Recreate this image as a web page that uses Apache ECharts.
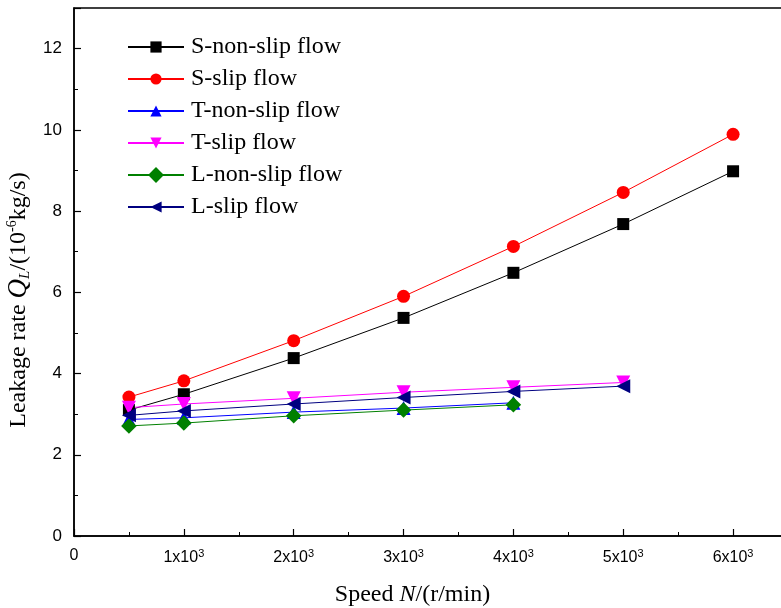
<!DOCTYPE html>
<html>
<head>
<meta charset="utf-8">
<script src="https://cdn.jsdelivr.net/npm/echarts@6/dist/echarts.min.js"></script>
<style>html,body{margin:0;padding:0;background:#fff}#c{width:781px;height:608px}</style>
</head>
<body>
<div id="c"></div>
<script>
var speeds = [500, 1000, 2000, 3000, 4000, 5000, 6000];
var sNonSlip = [3.10, 3.49, 4.38, 5.37, 6.48, 7.68, 8.98];
var sSlip = [3.42, 3.82, 4.81, 5.90, 7.13, 8.46, 9.89];
var tNonSlip = [2.87, 2.91, 3.05, 3.15, 3.28];
var tSlip = [3.16, 3.25, 3.39, 3.54, 3.66, 3.78];
var lNonSlip = [2.71, 2.78, 2.96, 3.10, 3.23];
var lSlip = [2.97, 3.08, 3.25, 3.41, 3.56, 3.69];
var seriesNames = ['S-non-slip flow', 'S-slip flow', 'T-non-slip flow', 'T-slip flow', 'L-non-slip flow', 'L-slip flow'];
var xTickLabels = ['0', '1x10{s|3}', '2x10{s|3}', '3x10{s|3}', '4x10{s|3}', '5x10{s|3}', '6x10{s|3}'];

function pairs(vals) { return vals.map(function (v, i) { return [speeds[i], v]; }); }

var chart = echarts.init(document.getElementById('c'));
var serif = '"Liberation Serif", "Times New Roman", serif';
var sans = '"Liberation Sans", Arial, sans-serif';

function mk(name, data, color, symbol, size, rot) {
  return {
    name: name, type: 'line', data: pairs(data),
    symbol: symbol, symbolSize: size, symbolRotate: rot || 0,
    showAllSymbol: true,
    lineStyle: { color: color, width: 1 },
    itemStyle: { color: color, borderWidth: 0 },
    emphasis: { disabled: true },
    animation: false
  };
}

chart.setOption({
  animation: false,
  grid: { left: 74, top: 8, width: 714, height: 528, containLabel: false, outerBoundsMode: 'none',
    show: true, borderColor: '#000', borderWidth: 1.5 },
  legend: {
    orient: 'vertical', left: 127, top: 35, padding: 0,
    itemWidth: 56, itemHeight: 14, itemGap: 8,
    data: seriesNames,
    textStyle: { fontFamily: serif, fontSize: 24, color: '#000', padding: [0, 0, 0, 2] }
  },
  xAxis: {
    type: 'value', min: 0, max: 6500, interval: 1000,
    name: '{t|Speed }{i|N}{t|/(r/min)}', nameLocation: 'middle', nameGap: 47,
    nameTextStyle: { padding: [0, 37, 0, 0], rich: {
      t: { fontFamily: serif, fontSize: 24, color: '#000' },
      i: { fontFamily: serif, fontSize: 24, fontStyle: 'italic', color: '#000' }
    } },
    axisLine: { lineStyle: { color: '#000', width: 1.5 } },
    axisTick: { inside: true, length: 7, lineStyle: { color: '#000', width: 1.2 } },
    minorTick: { show: true, splitNumber: 2, length: 4, lineStyle: { color: '#000', width: 1 } },
    splitLine: { show: false },
    axisLabel: {
      margin: 12, color: '#000', fontFamily: sans, fontSize: 16,
      formatter: function (v) { return v % 1000 === 0 ? xTickLabels[v / 1000] : ''; },
      rich: { s: { fontFamily: sans, fontSize: 11, verticalAlign: 'top', padding: [0, 0, 8, 0], color: '#000' } }
    }
  },
  yAxis: {
    type: 'value', min: 0, max: 13, interval: 2,
    name: '{t|Leakage rate }{i|Q}{sub|L}{t|/(10}{sup|-6}{t|kg/s)}',
    nameLocation: 'middle', nameGap: 34, nameRotate: 90,
    nameTextStyle: { padding: [0, 56, 0, 0], rich: {
      t: { fontFamily: serif, fontSize: 24, color: '#000' },
      i: { fontFamily: serif, fontSize: 27, fontStyle: 'italic', color: '#000' },
      sub: { fontFamily: serif, fontSize: 15, fontStyle: 'italic', verticalAlign: 'bottom', color: '#000', padding: [9, 0, 0, 0] },
      sup: { fontFamily: serif, fontSize: 14, verticalAlign: 'top', color: '#000', padding: [0, 0, 11, 0] }
    } },
    axisLine: { show: true, lineStyle: { color: '#000', width: 1.5 } },
    axisTick: { inside: true, length: 7, lineStyle: { color: '#000', width: 1.2 } },
    minorTick: { show: true, splitNumber: 2, length: 4, lineStyle: { color: '#000', width: 1 } },
    splitLine: { show: false },
    axisLabel: { margin: 12, color: '#000', fontFamily: sans, fontSize: 17,
      formatter: function (v) { return v % 2 === 0 ? String(v) : ''; } }
  },
  series: [
    mk(seriesNames[0], sNonSlip, '#000000', 'rect', 12, 0),
    mk(seriesNames[1], sSlip, '#ff0000', 'circle', 13, 0),
    mk(seriesNames[2], tNonSlip, '#0000ff', 'triangle', 14, 0),
    mk(seriesNames[3], tSlip, '#ff00ff', 'triangle', 14, 180),
    mk(seriesNames[4], lNonSlip, '#008000', 'rect', 11, 45),
    mk(seriesNames[5], lSlip, '#000080', 'triangle', 14, 90)
  ]
});
</script>
</body>
</html>
